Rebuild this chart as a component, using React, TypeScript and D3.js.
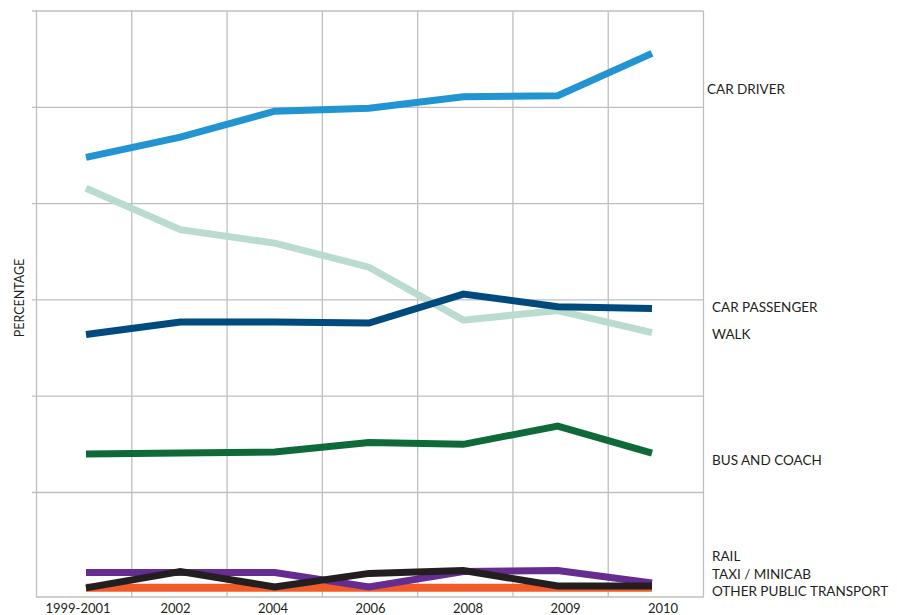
import React from 'react';
import * as d3 from 'd3';

// periods along the x axis
const PERIODS = ["1999-2001", "2002", "2004", "2006", "2008", "2009", "2010"];

// percentage of trips by main mode
const CAR_DRIVER = [44.8, 46.9, 49.6, 49.9, 51.1, 51.2, 55.6];
const WALK = [41.6, 37.3, 35.9, 33.4, 27.9, 28.9, 26.6];
const CAR_PASSENGER = [26.4, 27.7, 27.7, 27.6, 30.6, 29.3, 29.1];
const BUS_AND_COACH = [14.0, 14.1, 14.2, 15.2, 15.0, 16.9, 14.1];
const OTHER_PUBLIC = [0.1, 0.1, 0.1, 0.1, 0.1, 0.1, 0.1];
const RAIL = [1.7, 1.7, 1.7, 0.2, 1.8, 1.9, 0.6];
const TAXI = [0.1, 1.8, 0.2, 1.6, 1.9, 0.3, 0.3];

const Y_TICKS = [0, 10, 20, 30, 40, 50, 60];

const SERIES = [
    { name: "WALK", values: WALK, color: "#b9dccf", labelY: 334 },
    { name: "CAR PASSENGER", values: CAR_PASSENGER, color: "#004b7d", labelY: 307 },
    { name: "CAR DRIVER", values: CAR_DRIVER, color: "#2294d2", labelY: 89 },
    { name: "BUS AND COACH", values: BUS_AND_COACH, color: "#0e6a38", labelY: 460 },
    { name: "OTHER PUBLIC TRANSPORT", values: OTHER_PUBLIC, color: "#f15a29", labelY: 591 },
    { name: "RAIL", values: RAIL, color: "#662d91", labelY: 556 },
    { name: "TAXI / MINICAB", values: TAXI, color: "#231f20", labelY: 574 },
];

const W = 897;
const H = 615;
const left = 36.5;
const right = 703.5;
const top = 11;
const bottom = 597;
const gridColor = "#bfbfbf";
const font = "Lato, 'Open Sans', sans-serif";

export default function App() {
    const x = d3.scalePoint<string>().domain(PERIODS).range([86, 652]);
    const xLabel = d3.scalePoint<string>().domain(PERIODS).range([78, 663]);
    const y = d3.scaleLinear().domain([-0.85, 60]).range([bottom, top]);

    // vertical grid: 7 equal columns between the left axis and right border
    const xGrid = d3.scaleLinear().domain([0, 7]).range([left, right]);
    const vLines = d3.range(8);

    const line = d3.line<number>()
        .x((d, i) => x(PERIODS[i]) as number)
        .y(d => y(d));

    return (
        <svg width={W} height={H} style={{ position: 'absolute', left: 0, top: 0, background: '#fff' }}>
            <g stroke={gridColor} strokeWidth={1.3} fill="none">
                {vLines.map(i => (
                    <line key={"v" + i} x1={xGrid(i)} x2={xGrid(i)} y1={top} y2={bottom} />
                ))}
                {Y_TICKS.slice(1).map(t => (
                    <line key={"h" + t} x1={32} x2={right} y1={y(t)} y2={y(t)} />
                ))}
                <line x1={left - 0.5} x2={right + 0.5} y1={bottom} y2={bottom} />
            </g>

            <g fill="none" strokeLinejoin="miter">
                {SERIES.map(s => (
                    <path key={s.name} d={line(s.values) || ""} stroke={s.color}
                        strokeWidth={s.name === "OTHER PUBLIC TRANSPORT" ? 8 : 7} />
                ))}
            </g>

            <g fontFamily={font} fontSize={13} fill="#231f20">
                {PERIODS.map(p => (
                    <text key={p} x={xLabel(p)} y={607.5} textAnchor="middle" dominantBaseline="central">{p}</text>
                ))}
                {SERIES.map(s => (
                    <text key={s.name} x={s.name === "CAR DRIVER" ? 707 : 712} y={s.labelY}
                        fontSize={13.5} dominantBaseline="central">{s.name}</text>
                ))}
            </g>

            <text
                transform={`translate(19, ${298}) rotate(-90)`}
                textAnchor="middle"
                dominantBaseline="central"
                fontFamily={font}
                fontSize={12.5}
                fill="#231f20"
            >PERCENTAGE</text>
        </svg>
    );
}
